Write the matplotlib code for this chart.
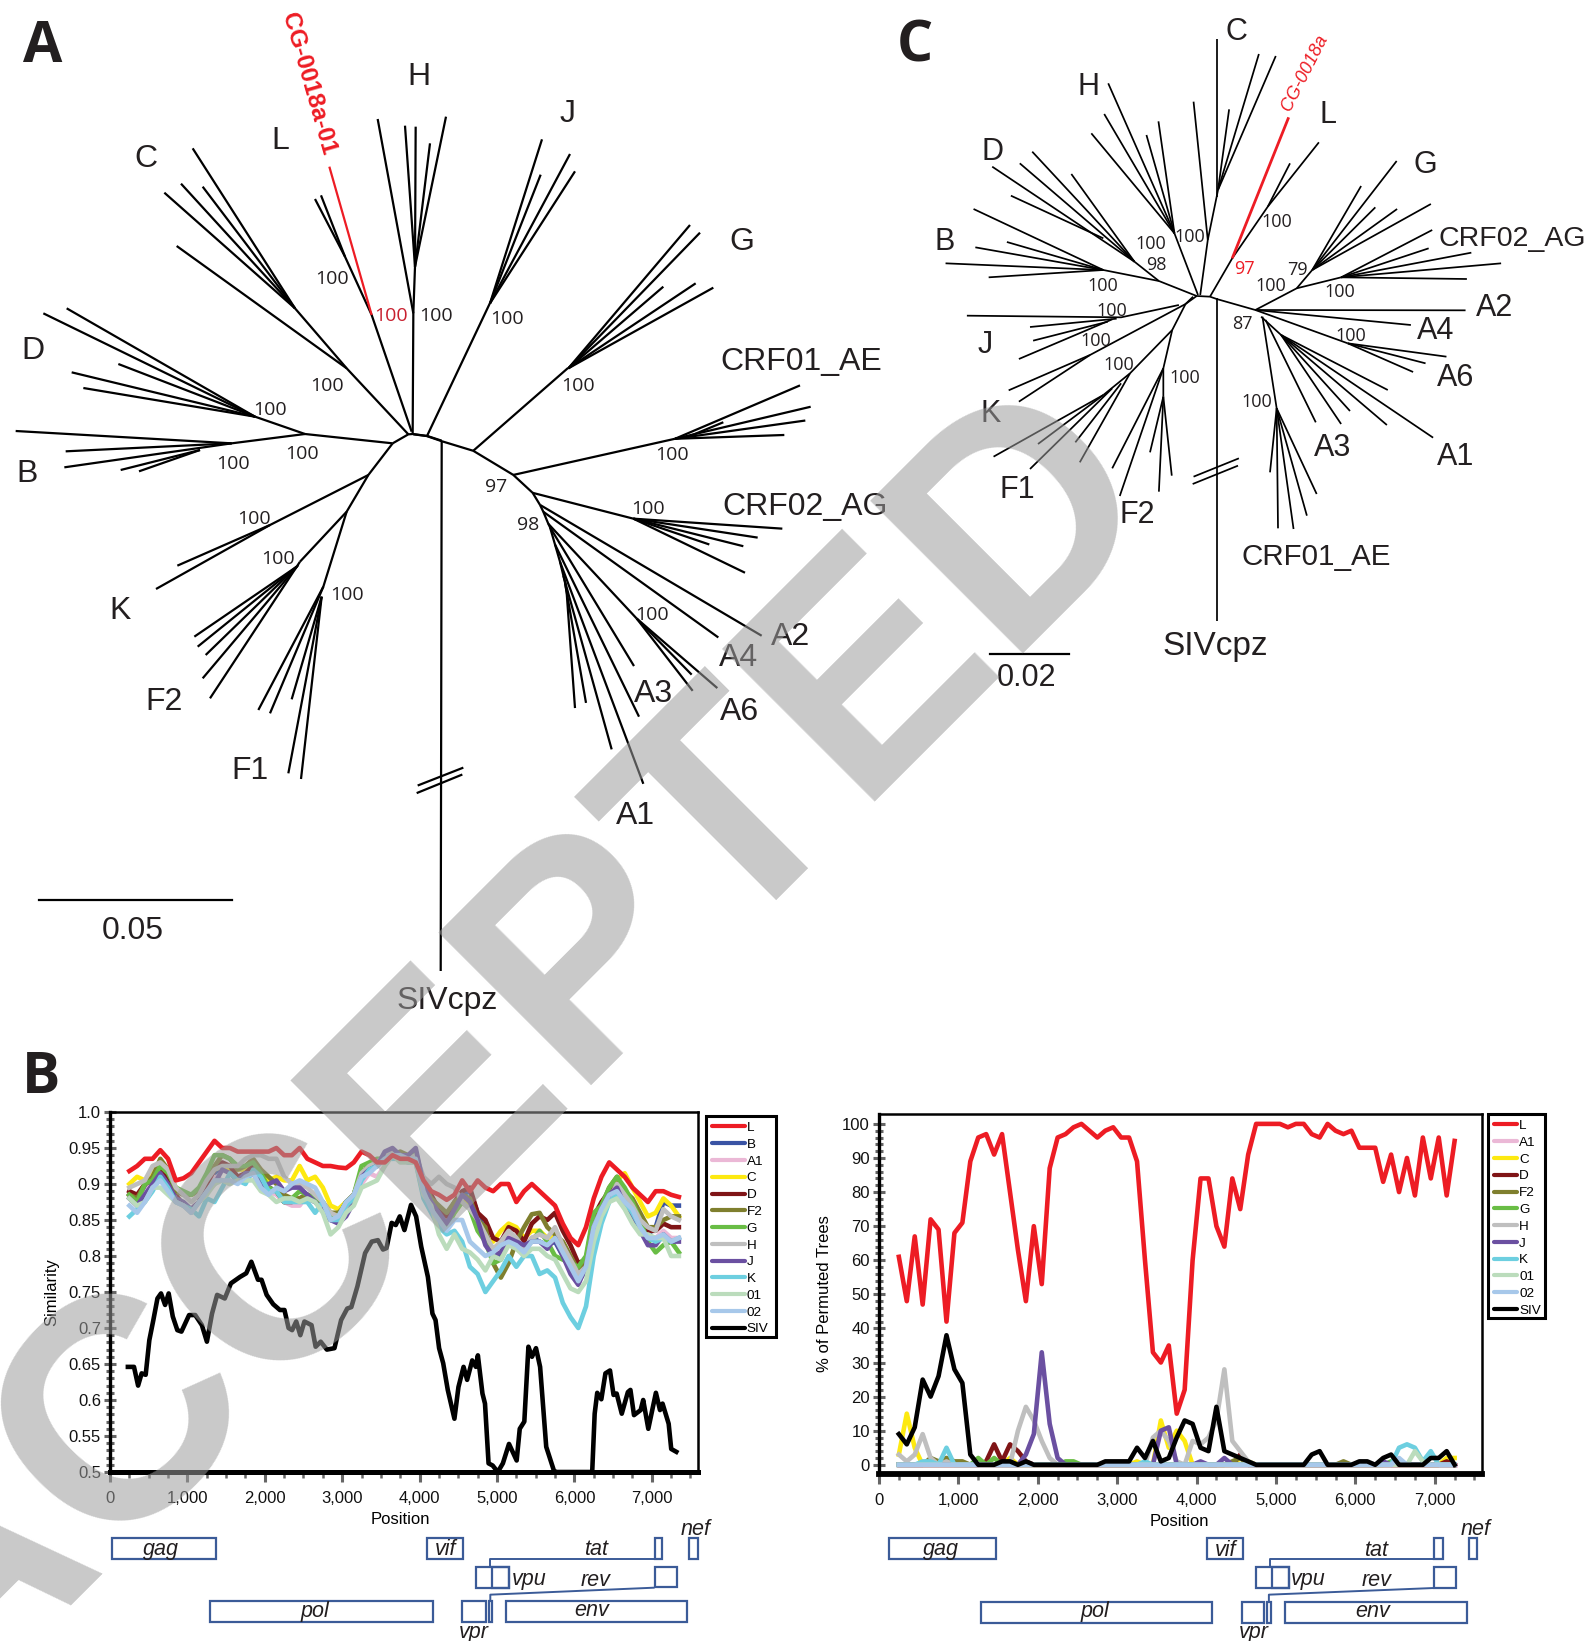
import matplotlib
matplotlib.use("Agg")
import matplotlib.pyplot as plt
from matplotlib.collections import LineCollection
from matplotlib.lines import Line2D
from matplotlib.patches import Rectangle

plt.rcParams['font.family'] = ['Liberation Sans', 'DejaVu Sans']

W, H = 1587, 1641
INK = '#231f20'
RED = '#ed1c24'

# ---- similarity plot (panel B left) ----
sim_x = list(range(250, 7400, 100))
sim_L = [.918, .925, .935, .935, .947, .935, .905, .908, .915, .93, .945, .96,
         .95, .95, .945, .945, .945, .945, .945, .95, .94, .94, .95, .935,
         .93, .925, .925, .923, .922, .93, .945, .94, .93, .93, .94, .935,
         .935, .93, .905, .89, .885, .878, .885, .905, .89, .905, .895, .89,
         .90, .90, .875, .89, .90, .89, .88, .87, .845, .825, .815, .84,
         .88, .91, .93, .92, .91, .895, .885, .875, .89, .89, .885, .882]
sim_B = [.885, .875, .89, .905, .925, .915, .885, .87, .865, .875, .90, .915,
         .925, .92, .905, .91, .92, .905, .895, .89, .875, .875, .875, .88,
         .875, .865, .85, .855, .875, .885, .915, .92, .925, .935, .945, .94,
         .935, .94, .90, .875, .855, .85, .87, .885, .89, .86, .835, .80,
         .80, .82, .815, .80, .825, .82, .815, .82, .80, .78, .765, .78,
         .84, .865, .885, .90, .885, .87, .85, .83, .84, .875, .87, .87]
sim_A1 = [.885, .87, .885, .905, .915, .90, .885, .87, .86, .875, .895, .91,
          .905, .90, .905, .905, .915, .895, .89, .885, .875, .87, .87, .885,
          .88, .87, .85, .85, .865, .875, .90, .915, .91, .925, .94, .935,
          .93, .94, .90, .875, .855, .85, .865, .875, .88, .85, .83, .805,
          .81, .83, .825, .81, .825, .83, .825, .825, .805, .785, .77, .785,
          .835, .86, .88, .89, .88, .865, .845, .825, .825, .835, .825, .825]
sim_C = [.90, .91, .905, .915, .93, .92, .895, .885, .885, .89, .905, .92,
         .925, .92, .92, .92, .93, .92, .905, .91, .905, .905, .925, .905,
         .91, .895, .87, .865, .875, .885, .915, .925, .925, .935, .945, .935,
         .935, .94, .90, .88, .86, .845, .86, .875, .875, .845, .825, .82,
         .835, .845, .84, .825, .835, .835, .825, .83, .81, .79, .78, .785,
         .85, .87, .89, .905, .915, .895, .875, .855, .86, .88, .87, .855]
sim_D = [.89, .885, .90, .905, .92, .91, .885, .87, .865, .875, .90, .92,
         .93, .925, .91, .915, .925, .91, .895, .89, .875, .875, .88, .885,
         .88, .87, .85, .855, .875, .885, .915, .925, .93, .94, .945, .94,
         .935, .94, .90, .885, .865, .855, .875, .89, .895, .86, .85, .825,
         .82, .84, .835, .82, .845, .855, .85, .86, .835, .815, .79, .795,
         .855, .875, .89, .90, .89, .875, .855, .835, .835, .845, .84, .84]
sim_F2 = [.885, .88, .90, .91, .935, .92, .89, .885, .885, .89, .905, .925,
          .94, .935, .92, .925, .935, .92, .91, .90, .885, .88, .88, .885,
          .88, .875, .86, .86, .87, .885, .915, .925, .93, .935, .94, .945,
          .94, .945, .90, .88, .87, .86, .875, .885, .88, .85, .84, .79,
          .77, .79, .82, .84, .858, .86, .84, .83, .82, .80, .78, .79,
          .85, .87, .895, .91, .89, .88, .86, .84, .84, .85, .855, .855]
sim_G = [.885, .875, .90, .905, .925, .915, .895, .89, .885, .895, .915, .94,
         .94, .935, .925, .925, .93, .915, .895, .89, .875, .88, .89, .885,
         .88, .87, .855, .855, .875, .885, .925, .93, .935, .935, .94, .94,
         .935, .945, .90, .875, .85, .84, .86, .875, .865, .835, .82, .79,
         .795, .82, .82, .81, .82, .835, .82, .80, .795, .79, .785, .80,
         .86, .87, .895, .91, .895, .875, .85, .82, .805, .815, .82, .805]
sim_H = [.895, .90, .905, .925, .93, .92, .895, .885, .875, .885, .905, .92,
         .925, .925, .925, .935, .94, .94, .935, .935, .91, .90, .90, .895,
         .885, .875, .86, .855, .87, .885, .915, .925, .93, .94, .945, .94,
         .935, .94, .91, .90, .91, .90, .895, .875, .865, .85, .83, .81,
         .82, .835, .825, .81, .825, .83, .825, .84, .815, .795, .775, .785,
         .84, .865, .88, .90, .885, .87, .85, .84, .835, .865, .855, .85]
sim_J = [.88, .87, .885, .90, .915, .90, .88, .875, .865, .875, .89, .90,
         .92, .915, .905, .915, .915, .895, .90, .905, .89, .895, .895, .885,
         .875, .865, .85, .845, .855, .875, .91, .92, .925, .945, .95, .94,
         .94, .95, .90, .875, .86, .845, .865, .885, .875, .85, .815, .80,
         .805, .825, .82, .815, .82, .82, .81, .825, .80, .775, .76, .785,
         .84, .865, .885, .895, .87, .85, .835, .815, .815, .83, .82, .82]
sim_K = [.855, .865, .875, .89, .91, .895, .875, .87, .865, .855, .88, .875,
         .895, .915, .905, .90, .92, .91, .89, .89, .875, .875, .875, .875,
         .86, .875, .85, .85, .87, .88, .905, .92, .925, .935, .935, .935,
         .93, .93, .88, .86, .84, .83, .835, .82, .785, .775, .75, .765,
         .78, .80, .785, .80, .80, .775, .78, .77, .735, .715, .70, .73,
         .80, .845, .875, .885, .875, .86, .84, .825, .82, .825, .82, .825]
sim_01 = [.88, .87, .875, .895, .895, .885, .875, .87, .86, .875, .885, .90,
          .905, .90, .905, .905, .905, .89, .885, .875, .88, .88, .875, .88,
          .875, .86, .83, .84, .86, .87, .895, .90, .905, .925, .94, .93,
          .93, .93, .885, .87, .83, .81, .83, .81, .805, .795, .78, .80,
          .795, .815, .81, .80, .81, .81, .80, .795, .775, .755, .75, .765,
          .82, .855, .875, .88, .865, .845, .83, .83, .825, .825, .80, .80]
sim_02 = [.87, .86, .875, .895, .905, .89, .875, .87, .86, .875, .89, .905,
          .905, .905, .90, .91, .915, .895, .885, .895, .89, .90, .905, .90,
          .895, .875, .85, .855, .875, .885, .91, .915, .925, .935, .94, .94,
          .935, .935, .89, .865, .85, .835, .85, .85, .82, .81, .80, .805,
          .815, .82, .815, .805, .82, .82, .815, .825, .805, .785, .765, .785,
          .84, .865, .885, .89, .875, .865, .84, .825, .825, .83, .82, .825]
siv_x = [231, 310, 363, 409, 461, 508, 560, 613, 659, 712, 758, 811, 870, 923, 1022, 1101,
         1187, 1252, 1318, 1384, 1483, 1562, 1681, 1760, 1826, 1912, 1958, 2024, 2109, 2195,
         2254, 2307, 2353, 2406, 2459, 2512, 2604, 2657, 2722, 2802, 2900, 2986, 3065, 3118,
         3197, 3296, 3382, 3461, 3527, 3573, 3639, 3692, 3744, 3804, 3889, 3955, 4021, 4107,
         4166, 4206, 4252, 4305, 4364, 4450, 4502, 4568, 4614, 4680, 4727, 4753, 4812, 4845,
         4891, 4944, 5010, 5076, 5155, 5254, 5294, 5353, 5406, 5452, 5504, 5557, 5636, 5735,
         5760, 6200, 6230, 6262, 6295, 6348, 6401, 6460, 6506, 6546, 6612, 6691, 6724, 6770,
         6856, 6889, 6955, 7053, 7106, 7139, 7218, 7251, 7317]
siv_y = [.646, .646, .620, .637, .635, .683, .711, .741, .748, .732, .748, .716, .697, .695, .718, .718,
         .704, .681, .720, .746, .741, .762, .771, .776, .792, .767, .767, .746, .733, .725,
         .725, .700, .697, .709, .690, .709, .704, .674, .681, .670, .672, .711, .727, .729,
         .758, .804, .820, .822, .809, .811, .846, .843, .855, .836, .871, .855, .813, .771,
         .720, .711, .672, .651, .614, .574, .618, .646, .628, .655, .646, .662, .609, .595,
         .512, .509, .500, .512, .539, .516, .560, .570, .674, .660, .672, .646, .535, .502,
         .500, .500, .500, .581, .610, .601, .637, .641, .607, .609, .581, .611, .614, .579,
         .586, .600, .560, .610, .586, .595, .567, .532, .528]

sim_series = [('B', sim_B, '#3953a4'), ('A1', sim_A1, '#ebb8d6'), ('C', sim_C, '#fde910'),
              ('D', sim_D, '#7f1416'), ('F2', sim_F2, '#7f7f2e'), ('G', sim_G, '#69bd45'),
              ('H', sim_H, '#bfbfbf'), ('J', sim_J, '#6b50a1'), ('K', sim_K, '#6dcfe0'),
              ('01', sim_01, '#bbdcbc'), ('02', sim_02, '#a7c8ea')]
sim_yticks = [.5, .55, .6, .65, .7, .75, .8, .85, .9, .95, 1.0]
sim_ylabels = ['0.5', '0.55', '0.6', '0.65', '0.7', '0.75', '0.8', '0.85', '0.9', '0.95', '1.0']
pos_ticks = [0, 1000, 2000, 3000, 4000, 5000, 6000, 7000]
pos_labels = ['0', '1,000', '2,000', '3,000', '4,000', '5,000', '6,000', '7,000']

# ---- bootscan plot (panel B right) ----
boot_x = list(range(250, 7300, 100))
boot_L = [61, 48, 67, 47, 72, 69, 42, 68, 71, 89,
          96, 97, 91, 97, 80, 63, 48, 70, 53, 87,
          96, 97, 99, 100, 98, 96, 98, 99, 96, 96,
          89, 60, 33, 30, 35, 15, 22, 60, 84, 84,
          70, 64, 84, 75, 91, 100, 100, 100, 100, 99,
          100, 100, 97, 96, 100, 98, 97, 98, 93, 93,
          93, 83, 91, 80, 90, 79, 96, 84, 96, 79,
          95]
boot_SIV = [9, 6, 11, 25, 20, 26, 38, 28, 24, 3,
            0, 0, 0, 1, 1, 0, 1, 0, 0, 0,
            0, 0, 0, 0, 0, 0, 1, 1, 1, 1,
            5, 2, 7, 1, 2, 8, 13, 12, 5, 4,
            17, 4, 3, 2, 1, 0, 0, 0, 0, 0,
            0, 0, 3, 4, 0, 0, 0, 0, 1, 1,
            0, 2, 3, 0, 0, 0, 0, 2, 2, 4,
            0]
# the other subtypes sit at zero apart from these peaks
boot_C = {250: 3, 350: 15, 450: 5, 1650: 2, 3250: 1, 3550: 13, 3650: 5, 3750: 10, 3850: 7, 4550: 2, 4650: 1, 7150: 2, 7250: 2}
boot_D = {1350: 1, 1450: 6, 1550: 1, 1650: 6, 1750: 4, 1850: 1, 4550: 3, 7150: 1}
boot_F2 = {650: 2, 750: 1, 850: 2, 950: 1, 1050: 1, 4450: 1, 4550: 2, 5850: 1}
boot_G = {1250: 2, 1450: 2, 2350: 1, 2450: 1, 6450: 1}
boot_H = {250: 3, 350: 1, 450: 3, 550: 9, 650: 2, 850: 1, 1750: 10, 1850: 17, 1950: 13, 2050: 7, 2150: 2,
          3450: 8, 3550: 10, 3650: 7, 3750: 1, 3950: 7, 4050: 6, 4150: 8, 4250: 13, 4350: 28, 4450: 7, 4550: 4, 4650: 1}
boot_J = {1850: 3, 1950: 9, 2050: 33, 2150: 12, 2250: 2, 3550: 10, 3650: 11, 4050: 1, 4350: 2, 6350: 1}
boot_K = {550: 1, 650: 1, 850: 5, 3350: 1, 6550: 5, 6650: 6, 6750: 5, 6850: 1, 6950: 4}
boot_01 = {6750: 4, 6850: 1}
boot_02 = {6550: 2}
boot_A1 = {}
boot_series = [('A1', boot_A1, '#ebb8d6'), ('C', boot_C, '#fde910'), ('D', boot_D, '#7f1416'),
               ('F2', boot_F2, '#7f7f2e'), ('G', boot_G, '#69bd45'), ('H', boot_H, '#bfbfbf'),
               ('J', boot_J, '#6b50a1'), ('K', boot_K, '#6dcfe0'), ('01', boot_01, '#bbdcbc'),
               ('02', boot_02, '#a7c8ea')]
boot_yticks = [0, 10, 20, 30, 40, 50, 60, 70, 80, 90, 100]

# ---- tree A, branches (x0, y0, scale x, scale y) ----
tree_a_upper = [[(1178, 1330), (1225, 1303), (1238, 1302), (1282, 1308), (1325, 1322)],
                [(1178, 1330), (915, 1302), (765, 1250)],
                [(765, 1250), (130, 940)], [(765, 1250), (200, 925)], [(765, 1250), (355, 1092)],
                [(765, 1250), (215, 1117)], [(765, 1250), (250, 1164)],
                [(915, 1302), (695, 1330), (47, 1293)], [(695, 1330), (197, 1354)], [(695, 1330), (193, 1402)],
                [(600, 1350), (362, 1410)], [(600, 1350), (417, 1414)],
                [(1235, 1295), (1115, 945), (1035, 770), (945, 597)], [(1035, 770), (963, 586)],
                [(1225, 1303), (1040, 1105), (885, 925)], [(1040, 1105), (530, 738)],
                [(885, 925), (578, 445)], [(885, 925), (608, 560)], [(885, 925), (543, 551)], [(885, 925), (493, 578)],
                [(1238, 1302), (1240, 940), (1245, 800)], [(1240, 940), (1133, 357)],
                [(1245, 800), (1215, 377)], [(1245, 800), (1247, 380)], [(1245, 800), (1290, 430)], [(1245, 800), (1338, 350)]]
tree_a_red = [[(1115, 945), (988, 500)]]
tree_a_lower = [[(1178, 40), (1105, 135), (1040, 245), (900, 395)],
                [(1105, 135), (810, 285), (532, 407)], [(810, 285), (468, 477)],
                [(890, 410), (583, 620)], [(890, 410), (593, 650)], [(890, 410), (617, 675)],
                [(895, 405), (608, 745)], [(900, 395), (630, 805)],
                [(1040, 245), (970, 470), (775, 840)], [(970, 470), (810, 850)], [(965, 500), (875, 808)],
                [(965, 500), (865, 1030)], [(965, 500), (903, 1047)]]
tree_a_right = [[(100, 390), (140, 395), (185, 410), (280, 438), (400, 508), (458, 560), (480, 595)],
                [(480, 595), (490, 615), (505, 650), (510, 660), (525, 710), (540, 760), (550, 800), (555, 820), (560, 850)],
                [(400, 508), (885, 403)], [(885, 403), (1260, 248)], [(885, 403), (1292, 310)], [(885, 403), (1276, 350)],
                [(885, 403), (1213, 392)], [(930, 395), (1030, 355)],
                [(458, 560), (760, 635)], [(760, 635), (1207, 664)], [(760, 635), (1133, 690)], [(760, 635), (1090, 715)],
                [(760, 635), (988, 710)], [(760, 635), (1095, 792)],
                [(480, 595), (1145, 975)], [(490, 615), (1015, 980)],
                [(505, 650), (770, 925)], [(770, 925), (935, 1088)], [(770, 925), (938, 1135)], [(770, 925), (1012, 1127)],
                [(510, 660), (762, 1063)], [(525, 710), (777, 1210)], [(540, 760), (790, 1405)],
                [(550, 800), (695, 1305)], [(555, 820), (618, 1170)], [(560, 850), (585, 1185)],
                [(113, 1410), (250, 1358)], [(110, 1432), (247, 1378)]]
tree_a_top = [[(150, 640), (306, 148)], [(150, 640), (390, 192)], [(150, 640), (302, 254)], [(150, 640), (405, 244)],
              [(385, 835), (750, 405)], [(385, 835), (780, 428)], [(385, 835), (670, 590)], [(385, 835), (767, 580)], [(385, 835), (820, 593)]]
# stems and trunk, in picture pixels
tree_a_stems = [[(427, 436), (490, 303)], [(473, 451), (568, 368)], [(441.7, 441), (440.7, 971)]]

# ---- tree C ----
tree_c_upper = [[(665, 912), (690, 888), (720, 890), (735, 897), (822, 930)],
                [(690, 888), (605, 843), (550, 785)],
                [(550, 785), (230, 500)], [(550, 785), (292, 490)], [(550, 785), (320, 455)], [(550, 785), (408, 522)], [(480, 715), (272, 587)],
                [(605, 843), (480, 810), (188, 627)], [(480, 810), (263, 726)], [(480, 810), (192, 742)], [(480, 810), (125, 790)], [(480, 810), (222, 832)],
                [(693, 885), (640, 700)], [(640, 700), (453, 400)], [(640, 700), (482, 342)], [(640, 700), (491, 250)], [(640, 700), (577, 405)], [(640, 700), (604, 364)],
                [(698, 885), (715, 720), (735, 590), (738, 570)], [(715, 720), (683, 305)], [(735, 590), (735, 118)],
                [(738, 570), (763, 328)], [(738, 570), (830, 162)], [(738, 570), (868, 168)],
                [(720, 890), (770, 775), (850, 620), (965, 427)], [(850, 620), (900, 490)],
                [(822, 930), (915, 865), (950, 810)], [(950, 810), (1140, 483)], [(950, 810), (1060, 558)], [(950, 810), (1092, 622)], [(950, 810), (1141, 627)], [(950, 810), (1217, 612)],
                [(915, 865), (1015, 832)], [(1015, 832), (1220, 690)], [(1015, 832), (1212, 745)], [(1015, 832), (1308, 758)], [(1015, 832), (1375, 790)], [(1015, 832), (1298, 837)],
                [(822, 930), (1295, 931)], [(822, 930), (1172, 975)]]
tree_c_red = [[(770, 775), (897, 352)]]
tree_c_lower = [[(822, 90), (1030, 190)], [(1030, 190), (1252, 230)], [(1030, 190), (1205, 250)], [(1030, 190), (1177, 276)],
                [(835, 110), (880, 165)], [(880, 165), (1222, 473)], [(880, 165), (1120, 330)], [(880, 165), (1118, 435)], [(880, 165), (1035, 393)], [(880, 165), (1015, 432)],
                [(845, 120), (958, 427)], [(838, 110), (870, 385)],
                [(870, 385), (855, 577)], [(870, 385), (873, 745)], [(870, 385), (908, 747)], [(870, 385), (938, 707)], [(870, 385), (960, 642)],
                [(650, 75), (520, 112), (173, 107)], [(510, 116), (315, 141)], [(490, 125), (322, 182)], [(500, 118), (290, 237)],
                [(665, 72), (450, 225), (267, 331)], [(450, 225), (290, 365)],
                [(682, 50), (665, 72), (635, 150), (540, 280), (480, 345)], [(635, 150), (615, 265), (615, 350)],
                [(480, 345), (233, 530)], [(480, 345), (333, 492)], [(500, 325), (315, 567)], [(520, 310), (417, 487)], [(540, 280), (427, 547)],
                [(615, 265), (500, 565)], [(615, 265), (517, 648)], [(615, 350), (585, 517)], [(615, 350), (605, 635)], [(615, 350), (634, 587)],
                [(735, 55), (735, 1022)], [(683, 590), (785, 535)], [(681, 612), (783, 557)]]

# ---- gene maps: (left, right, top, bottom) in picture runs ----
genes_left = [(219, 423, 173, 237), (837, 907, 173, 237), (1283, 1298, 173, 237), (1351, 1368, 173, 237),
              (932, 998, 260, 324), (964, 998, 260, 324), (1283, 1326, 260, 322),
              (411, 848, 363, 426), (905, 952, 363, 426), (958, 965, 363, 426), (991, 1346, 363, 426)]
links_left = [[(961, 260), (961, 236), (1283, 236)], [(961, 363), (961, 344), (1283, 323)]]
names_left = [('gag', 315, 205), ('vif', 873, 206), ('tat', 1168, 205), ('nef', 1363, 145), ('vpu', 1037, 295),
              ('rev', 1168, 298), ('pol', 618, 390), ('env', 1160, 390), ('vpr', 928, 455)]
genes_right = [(177, 390, 173, 238), (810, 883, 173, 238), (1263, 1280, 173, 238), (1332, 1349, 173, 238),
               (908, 975, 260, 325), (940, 975, 260, 325), (1263, 1307, 260, 324),
               (361, 821, 365, 428), (880, 924, 365, 428), (930, 938, 365, 428), (966, 1328, 365, 428)]
links_right = [[(937, 260), (937, 236), (1263, 236)], [(934, 365), (934, 344), (1263, 324)]]
names_right = [('gag', 280, 205), ('vif', 848, 208), ('tat', 1148, 208), ('nef', 1346, 145), ('vpu', 1012, 295),
               ('rev', 1148, 298), ('pol', 588, 392), ('env', 1140, 392), ('vpr', 904, 455)]

# ---- tree labels (text, x, y) in picture pixels ----
labels_a = [('H', 419, 77), ('L', 280, 141), ('C', 146, 159), ('D', 33, 351), ('B', 27, 474), ('J', 568, 114),
            ('G', 742, 242), ('CRF01_AE', 801, 362), ('CRF02_AG', 805, 507), ('A2', 791, 637), ('A4', 739, 658),
            ('A3', 653, 694), ('A6', 739, 712), ('A1', 636, 816), ('SIVcpz', 447, 1001), ('K', 120, 611),
            ('F2', 164, 702), ('F1', 250, 771), ('0.05', 133, 931)]
boot_a = [('100', 332, 279), ('100', 436, 316), ('100', 327, 386), ('100', 270, 410), ('100', 302, 454), ('100', 233, 464),
          ('100', 254, 519), ('100', 278, 559), ('100', 347, 595), ('100', 507, 319), ('100', 578, 386), ('100', 672, 455),
          ('97', 496, 487), ('98', 528, 525), ('100', 648, 509), ('100', 652, 615)]
labels_c = [('C', 1236, 32), ('L', 1328, 115), ('H', 1089, 87), ('G', 1425, 165), ('D', 992, 152), ('B', 945, 242),
            ('A2', 1495, 308), ('A4', 1436, 331), ('A6', 1456, 378), ('J', 985, 345), ('K', 991, 414), ('A3', 1333, 448),
            ('A1', 1456, 457), ('F1', 1017, 490), ('F2', 1137, 515), ('0.02', 1027, 678)]
boot_c = [('100', 1277, 222), ('100', 1190, 237), ('100', 1151, 244), ('98', 1156, 265), ('100', 1103, 286), ('79', 1297, 270),
          ('100', 1271, 286), ('100', 1340, 292), ('87', 1242, 324), ('100', 1351, 336), ('100', 1112, 311), ('100', 1096, 341),
          ('100', 1119, 365), ('100', 1185, 378), ('100', 1257, 402)]
panel_letters = [('A', 43, 47), ('C', 915, 47), ('B', 41, 1078)]


def to_px(lines, x0, y0, sx, sy):
    return [[(x0 + x / sx, y0 + y / sy) for x, y in line] for line in lines]


fig = plt.figure(figsize=(W / 100, H / 100), dpi=100)
canvas = fig.add_axes([0, 0, 1, 1])
canvas.set_xlim(0, W)
canvas.set_ylim(H, 0)
canvas.axis('off')

# tree A
a_black = (to_px(tree_a_upper, 0, 0, 3, 3) + to_px(tree_a_lower, 0, 430, 3, 3)
           + to_px(tree_a_right, 380, 300, 3, 2.904) + to_px(tree_a_top, 440, 90, 3, 3) + tree_a_stems)
canvas.add_collection(LineCollection(a_black, colors='black', linewidths=1.6, capstyle='butt'))
canvas.add_collection(LineCollection(to_px(tree_a_red, 0, 0, 3, 3), colors=RED, linewidths=1.6))
canvas.plot([39, 232], [900, 900], color='black', lw=1.6)

# tree C
c_black = to_px(tree_c_upper, 890, 0, 2.25, 3) + to_px(tree_c_lower, 890, 280, 2.25, 3)
canvas.add_collection(LineCollection(c_black, colors='black', linewidths=1.25, capstyle='butt'))
canvas.add_collection(LineCollection(to_px(tree_c_red, 890, 0, 2.25, 3), colors=RED, linewidths=2.0))
canvas.plot([890 + 226 / 2.25, 890 + 403 / 2.25], [654, 654], color='black', lw=1.6)

for txt, x, y in labels_a:
    canvas.text(x, y, txt, fontsize=23, color=INK, ha='center', va='center')
for txt, x, y in labels_c:
    canvas.text(x, y, txt, fontsize=22, color=INK, ha='center', va='center')
canvas.text(1316, 557, 'CRF01_AE', fontsize=21.3, color=INK, ha='center', va='center')
canvas.text(1438, 239, 'CRF02_AG', fontsize=20.5, color=INK, ha='left', va='center')
canvas.text(1215, 646, 'SIVcpz', fontsize=24, color=INK, ha='center', va='center')
for txt, x, y in boot_a:
    canvas.text(x, y, txt, fontsize=14, color=INK, ha='center', va='center', family='Open Sans')
canvas.text(391, 316, '100', fontsize=14, color='#c8202f', ha='center', va='center', family='Open Sans')
for txt, x, y in boot_c:
    canvas.text(x, y, txt, fontsize=13, color=INK, ha='center', va='center', family='Open Sans')
canvas.text(1244, 269, '97', fontsize=13, color=RED, ha='center', va='center', family='Open Sans')
canvas.text(308, 84, 'CG-0018a-01', fontsize=17.5, fontweight='bold', color=RED, rotation=-74,
            ha='center', va='center', rotation_mode='anchor')
canvas.text(1305, 73, 'CG-0018a', fontsize=13, style='italic', color=RED, rotation=63,
            ha='center', va='center', rotation_mode='anchor')
for txt, x, y in panel_letters:
    canvas.text(x, y, txt, fontsize=41, fontweight='bold', color=INK, ha='center', va='center', family='Open Sans')

# gene maps
GENE = '#3b5b98'
for genes, links, names, x0, sx in [(genes_left, links_left, names_left, 0, 1.96),
                                    (genes_right, links_right, names_right, 800, 1.992)]:
    for left, right, top, bottom in genes:
        canvas.add_patch(Rectangle((x0 + left / sx, 1480 + top / 3), (right - left) / sx, (bottom - top) / 3,
                                   fill=False, edgecolor=GENE, lw=1.6))
    canvas.add_collection(LineCollection(to_px(links, x0, 1480, sx, 3), colors=GENE, linewidths=1.4))
    for txt, x, y in names:
        canvas.text(x0 + x / sx, 1481 + y / 3, txt, fontsize=15.5, style='italic', color=INK, ha='center', va='center')


def style_axis(ax, yticks, ylabels, xmax, ymin, ymax, yminor):
    ax.set_xlim(0, xmax)
    ax.set_ylim(ymin, ymax)
    ax.set_xticks(pos_ticks, pos_labels)
    ax.set_yticks(yticks, ylabels)
    ax.set_xticks(list(range(0, 7750, 250)), minor=True)
    ax.set_yticks(yminor, minor=True)
    ax.tick_params(axis='both', which='major', labelsize=12, color='#666666', width=2.2, labelcolor='#111111')
    ax.tick_params(axis='y', which='major', length=8, direction='inout', pad=2.5)
    ax.tick_params(axis='y', which='minor', length=6, direction='inout', color='#666666', width=2.2)
    ax.tick_params(axis='x', which='major', length=7, pad=7)
    ax.tick_params(axis='x', which='minor', length=4, color='#666666', width=1.8)
    ax.spines['top'].set_linewidth(1.8)
    ax.spines['right'].set_linewidth(1.8)
    ax.spines['left'].set_linewidth(2.4)
    ax.spines['bottom'].set_linewidth(3.6)


def add_legend(ax, rows, box, handle_len):
    x0, y0, x1, y1 = box
    canvas.add_patch(Rectangle((x0, y0), x1 - x0, y1 - y0, fill=False, edgecolor='black', lw=2.2))
    handles = [Line2D([0], [0], color=c, lw=3, solid_capstyle='round') for _, c in rows]
    ax.legend(handles, [n for n, _ in rows], loc='upper left', bbox_to_anchor=(x0 / W, 1 - y0 / H),
              bbox_transform=fig.transFigure, borderaxespad=0, fontsize=9.7, frameon=False,
              handlelength=handle_len, handletextpad=0.15, labelspacing=0.323, borderpad=0.42)


# similarity plot
ax1 = fig.add_axes([110 / W, 1 - 1472 / H, 588 / W, 360 / H])
for name, vals, col in sim_series:
    ax1.plot(sim_x, vals, color=col, lw=3.3, solid_joinstyle='round')
ax1.plot(sim_x, sim_L, color=RED, lw=3.3)
ax1.plot(siv_x, siv_y, color='black', lw=3.3)
style_axis(ax1, sim_yticks, sim_ylabels, 7597, 0.5, 1.0, [.5 + i * .01 for i in range(51)])
ax1.set_xlabel('Position', fontsize=12, labelpad=4, x=0.493)
ax1.set_ylabel('Similarity', fontsize=12, labelpad=6.5)
add_legend(ax1, [('L', RED)] + [(n, c) for n, _, c in sim_series] + [('SIV', 'black')], (706, 1116, 776, 1337), 2.45)

# bootscan plot
ax2 = fig.add_axes([879 / W, 1 - 1474 / H, 603 / W, 360 / H])
for name, peaks, col in boot_series:
    ax2.plot(boot_x, [peaks.get(p, 0) for p in boot_x], color=col, lw=3.3)
ax2.plot(boot_x, boot_L, color=RED, lw=3.3)
ax2.plot(boot_x, boot_SIV, color='black', lw=3.3)
style_axis(ax2, boot_yticks, [str(v) for v in boot_yticks], 7595, -2.7, 102.9, list(range(0, 102, 2)))
ax2.spines['bottom'].set_linewidth(4.2)
ax2.set_xlabel('Position', fontsize=12, labelpad=4, x=0.4975)
ax2.set_ylabel('% of Permuted Trees', fontsize=12, labelpad=7)
add_legend(ax2, [('L', RED)] + [(n, c) for n, _, c in boot_series] + [('SIV', 'black')], (1488, 1114, 1545, 1318), 1.75)

# watermark lies over everything
wm = fig.add_axes([0, 0, 1, 1], zorder=20)
wm.set_xlim(0, W)
wm.set_ylim(H, 0)
wm.axis('off')
wm.text(1167, 502, 'ACCEPTED', fontsize=226, fontweight='bold', color='#9c9c9c', alpha=0.55, rotation=45,
        ha='right', va='baseline', rotation_mode='anchor')

fig.savefig('out.png', dpi=100)
